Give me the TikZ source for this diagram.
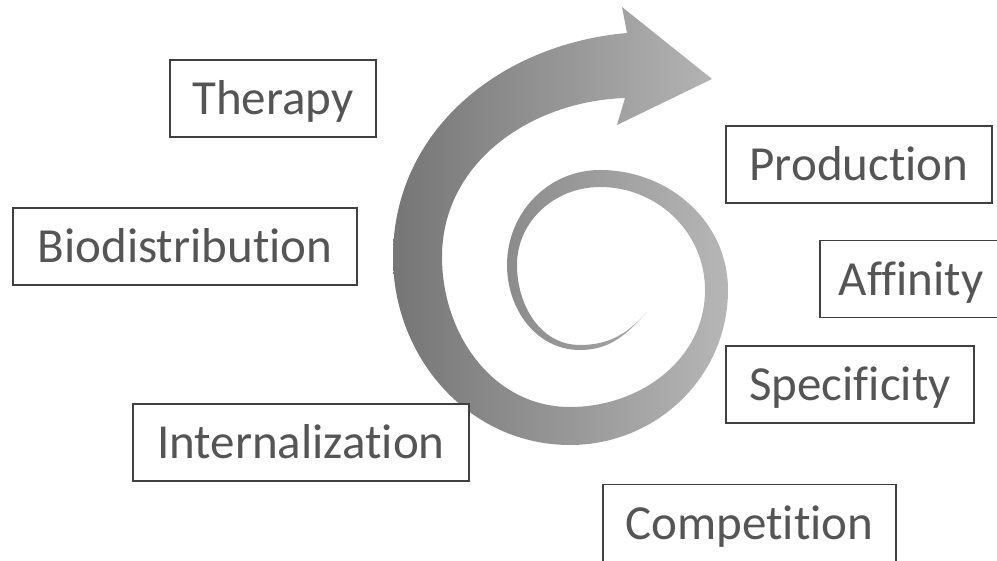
\documentclass[tikz,border=0pt]{standalone}
\usepackage{fontspec}
\setmainfont[Ligatures=NoCommon]{Carlito}
\usetikzlibrary{positioning}

\definecolor{boxline}{RGB}{64,64,64}
\definecolor{boxtext}{RGB}{85,85,85}
\definecolor{spiraldark}{RGB}{118,118,118}
\definecolor{spirallight}{RGB}{182,182,182}

\begin{document}
\begin{tikzpicture}[x=1pt,y=1pt,
                box/.style={draw=boxline,fill=white,text=boxtext,line width=1.4pt,
                    minimum height=77pt,inner xsep=4pt,text height=33pt,text depth=0pt,
                    font=\fontsize{49}{59}\selectfont}
            ]
                \useasboundingbox (0,0) rectangle (997,561);

                % spiral arrow, outer edge out to the head, inner edge back to the tail
                \shade[left color=spiraldark,right color=spirallight]
                    (647,249) to[out=228,in=0]   (580,211)
                              to[out=180,in=270] (507,296)
                              to[out=90,in=180]  (600,391)
                              to[out=0,in=90]    (728,271)
                              to[out=270,in=0]   (570,116)
                              to[out=180,in=270] (393,304)
                              to[out=90,in=185]  (627,528)
                    -- (622,554) -- (712,482) -- (617,436) -- (625,463)
                              to[out=182,in=90]  (442,304)
                              to[out=270,in=180] (570,154)
                              to[out=0,in=270]   (705,271)
                              to[out=90,in=0]    (600,374)
                              to[out=180,in=90]  (517,296)
                              to[out=270,in=180] (580,216)
                              to[out=0,in=228]   (647,249) -- cycle;

                \node[box,minimum width=206pt] (therapy)   at (273,462.5) {Therapy};
                \node[box,minimum width=266pt] (prod)      at (859,396.5) {Production};
                \node[box,minimum width=344pt] (biodist)   at (185,314.5) {Biodistribution};
                \node[box,minimum width=182pt] (affinity)  at (911,282)   {Affinity};
                \node[box,minimum width=248pt] (specific)  at (850,176.5) {Specificity};
                \node[box,minimum width=336pt] (internal)  at (301,118.5) {Internalization};
                \node[box,minimum width=293pt] (compet)    at (749.5,38)  {Competition};
            \end{tikzpicture}
\end{document}
